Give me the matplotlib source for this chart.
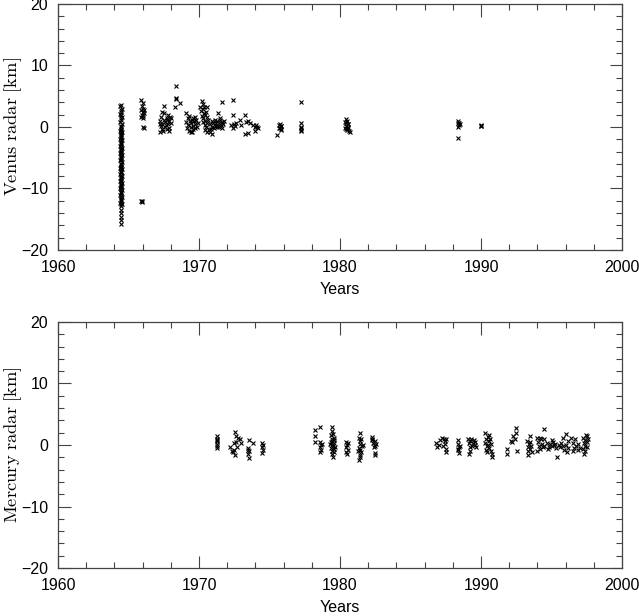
import matplotlib
matplotlib.use("Agg")
from matplotlib import pyplot as plt
from matplotlib.ticker import MultipleLocator

# Venus radar ranging residuals [km] (one line per campaign)
venus_year = [
    # 1964 column
    1964.43, 1964.47, 1964.43, 1964.47, 1964.43, 1964.47, 1964.43, 1964.47, 1964.43, 1964.47,
    1964.43, 1964.47, 1964.43, 1964.47, 1964.43, 1964.47, 1964.43, 1964.47, 1964.43, 1964.47,
    1964.43, 1964.47, 1964.43, 1964.47, 1964.43, 1964.47, 1964.43, 1964.47,
    1964.50, 1964.53, 1964.50, 1964.53, 1964.50, 1964.53, 1964.50, 1964.53, 1964.50, 1964.53,
    1964.50, 1964.53, 1964.50, 1964.53, 1964.50, 1964.53, 1964.50, 1964.53, 1964.50, 1964.53,
    1964.50, 1964.53, 1964.50, 1964.53, 1964.50, 1964.53, 1964.50, 1964.53,
    1964.48, 1964.48,
    1964.46, 1964.50, 1964.46, 1964.50, 1964.46, 1964.50, 1964.46, 1964.50, 1964.46, 1964.50,
    1964.46, 1964.50, 1964.46, 1964.50, 1964.46, 1964.50, 1964.46, 1964.50, 1964.46, 1964.50,
    1964.46, 1964.50, 1964.46, 1964.50, 1964.46, 1964.50,
    1964.47, 1964.49, 1964.47, 1964.49, 1964.47,
    # 1966
    1965.90, 1966.00, 1965.95, 1966.05, 1965.90, 1966.00, 1966.10, 1965.95, 1966.05, 1965.90,
    1966.10, 1966.00, 1966.05, 1966.10, 1965.92, 1965.95, 1965.93,
    # 1967-68
    1967.20, 1967.30, 1967.20, 1967.30, 1967.40, 1967.40, 1967.50, 1967.50, 1967.60, 1967.60,
    1967.70, 1967.70, 1967.80, 1967.80, 1967.90, 1967.90, 1968.00, 1968.00, 1967.55, 1967.35,
    1967.45, 1967.65, 1967.75, 1967.85, 1967.25, 1967.95,
    1968.35, 1968.35, 1968.37, 1968.33, 1968.65,
    # 1969
    1969.10, 1969.10, 1969.15, 1969.20, 1969.25, 1969.30, 1969.35, 1969.40, 1969.45, 1969.50,
    1969.50, 1969.55, 1969.60, 1969.65, 1969.70, 1969.70, 1969.75, 1969.80, 1969.85, 1969.90,
    1969.30, 1969.60, 1969.40,
    # 1970
    1970.20, 1970.30, 1970.10, 1970.15, 1970.25, 1970.35, 1970.20, 1970.30, 1970.40, 1970.45,
    1970.50, 1970.55, 1970.60, 1970.50, 1970.40, 1970.65, 1970.30, 1970.45, 1970.60, 1970.35,
    1970.55, 1970.70,
    # 1971
    1970.80, 1970.90, 1970.95, 1971.00, 1971.10, 1971.15, 1971.20, 1971.30, 1971.35, 1971.40,
    1971.50, 1971.55, 1971.60, 1971.70, 1971.75, 1970.85, 1971.05, 1971.25, 1971.45, 1971.65,
    1970.80, 1970.90, 1971.65, 1971.37, 1971.50,
    # 1972-74
    1972.43, 1972.43, 1972.50, 1972.40, 1972.55, 1972.30, 1972.60, 1972.90, 1973.00, 1973.26,
    1973.30, 1973.50, 1973.26, 1973.60, 1973.50, 1973.85, 1973.97, 1974.00, 1974.05, 1974.10,
    1974.20,
    # 1975
    1975.70, 1975.75, 1975.80, 1975.85, 1975.75, 1975.80, 1975.70, 1975.85, 1975.55,
    # 1977
    1977.23, 1977.23, 1977.23, 1977.20, 1977.25, 1977.22,
    # 1980
    1980.35, 1980.40, 1980.45, 1980.50, 1980.55, 1980.60, 1980.65, 1980.40, 1980.50, 1980.60,
    1980.35, 1980.55, 1980.70, 1980.45,
    # 1988, 1990
    1988.35, 1988.45, 1988.40, 1988.50, 1988.40, 1988.45, 1988.40,
    1990.00, 1990.02, 1989.98,
]
venus_dr = [
    3.4, 2.7, 2.1, 1.4, 0.8, 0.1, -0.6, -1.2, -1.9, -2.5,
    -3.1, -3.7, -4.3, -4.9, -5.4, -6.0, -6.6, -7.1, -7.7, -8.3,
    -8.8, -9.4, -10.0, -10.5, -11.1, -11.7, -12.3, -12.9,
    3.6, 3.0, 2.4, 1.7, 1.1, 0.4, -0.3, -0.9, -1.5, -2.2,
    -2.8, -3.4, -4.0, -4.6, -5.2, -5.7, -6.3, -6.9, -7.4, -8.0,
    -8.6, -9.1, -9.7, -10.3, -10.8, -11.4, -12.0, -12.6,
    2.0, 0.0,
    -0.45, -0.75, -1.35, -1.65, -2.05, -2.65, -3.25, -3.55, -4.15, -4.45,
    -5.05, -5.45, -5.95, -6.45, -6.85, -7.25, -7.85, -8.15, -8.75, -9.25,
    -9.65, -10.15, -10.65, -11.25, -11.85, -12.45,
    -13.5, -14.0, -14.6, -15.2, -15.8,
    4.4, 3.9, 3.4, 3.0, 2.7, 2.4, 2.2, 2.0, 1.8, 1.6,
    2.8, 1.5, 0.0, -0.2, -12.0, -12.2, -12.1,
    -0.8, 0.2, 1.0, 1.6, 0.5, -0.3, 1.2, 2.2, 0.8, 0.0,
    1.5, -0.4, 0.4, 1.9, 1.0, -0.2, 0.6, 1.4, 3.4, 2.5,
    -0.6, 0.3, 1.1, -0.6, 0.5, 1.7,
    6.7, 4.55, 4.7, 3.3, 3.9,
    2.3, 0.8, -0.2, 1.4, 0.3, -0.6, 1.0, 0.0, 0.6, -0.9,
    1.2, 0.2, -0.3, 0.9, 1.6, -0.1, 0.5, 1.1, 0.0, 0.7,
    1.8, 1.5, -0.8,
    4.2, 3.8, 3.2, 2.6, 2.9, 2.2, 1.8, 1.4, 1.9, 1.0,
    2.5, 0.6, 1.6, 0.0, 0.3, 1.1, 0.8, -0.5, -0.9, 3.3,
    3.2, -0.4,
    0.5, 1.0, 0.0, 0.6, 1.2, 0.2, 0.7, 1.0, 0.1, 0.6,
    1.1, 0.3, 0.8, 0.4, 1.0, -0.3, -0.2, 0.0, 0.0, -0.1,
    -0.8, -1.2, 4.0, 2.2, 1.4,
    4.4, 2.0, 0.5, -0.2, 0.1, 0.3, 0.7, 1.1, 0.3, 1.9,
    0.8, -1.0, -1.2, 0.6, 0.9, 0.3, 0.05, -0.7, 0.3, 0.0,
    -0.2,
    0.3, -0.2, 0.1, -0.4, 0.5, -0.5, -0.1, 0.2, -1.3,
    4.1, 0.7, -0.2, -0.6, -0.5, 0.0,
    0.8, 0.2, -0.3, 1.0, 0.5, -0.1, -0.6, 0.6, -0.5, 0.4,
    -0.1, 0.0, -0.8, 1.3,
    0.6, 0.3, 0.9, 0.5, 0.0, 0.7, -1.8,
    0.2, 0.3, 0.15,
]

# Mercury radar ranging residuals [km]
mercury_year = [
    1971.25, 1971.30, 1971.25, 1971.30, 1971.25, 1971.30, 1971.28,
    1972.55, 1972.60, 1972.90, 1972.20, 1972.45, 1972.55, 1972.40, 1972.65, 1972.75, 1972.50,
    1972.95, 1972.35, 1972.70,
    1973.50, 1973.55, 1973.50, 1973.55, 1973.55, 1973.85, 1973.50,
    1974.50, 1974.50, 1974.55, 1974.50, 1974.55,
    1978.20, 1978.60, 1978.25, 1978.20, 1978.60, 1978.65, 1978.60, 1978.65, 1978.60, 1978.70,
    1979.40, 1979.45, 1979.35, 1979.50, 1979.40, 1979.55, 1979.35, 1979.45, 1979.60, 1979.40,
    1979.50, 1979.35, 1979.55, 1979.45, 1979.60, 1979.40, 1979.50, 1979.60, 1979.30, 1979.65,
    1980.40, 1980.50, 1980.45, 1980.55, 1980.45, 1980.50, 1980.55,
    1981.40, 1981.35, 1981.45, 1981.50, 1981.40, 1981.55, 1981.35, 1981.45, 1981.50, 1981.40,
    1981.45, 1981.35, 1981.60, 1981.30,
    1982.25, 1982.30, 1982.35, 1982.45, 1982.50, 1982.55, 1982.40, 1982.50, 1982.45, 1982.30,
    1986.80, 1986.85, 1987.10, 1987.20, 1987.30, 1987.40, 1987.45, 1987.50, 1987.55, 1987.45,
    1987.00, 1987.50,
    1988.40, 1988.35, 1988.45, 1988.40, 1988.45, 1988.50, 1988.35,
    1989.10, 1989.15, 1989.20, 1989.15, 1989.25, 1989.30, 1989.35, 1989.40, 1989.50, 1989.55,
    1989.60, 1989.65, 1989.20,
    1990.30, 1990.35, 1990.30, 1990.40, 1990.35, 1990.50, 1990.55, 1990.50, 1990.60, 1990.65,
    1990.70, 1990.70, 1990.75, 1990.80, 1990.45, 1990.60,
    1991.85, 1991.85, 1992.10, 1992.20, 1992.30, 1992.40, 1992.50, 1992.45, 1992.55,
    1993.25, 1993.30, 1993.35, 1993.40, 1993.45, 1993.50, 1993.55, 1993.60, 1993.30, 1993.50,
    1994.00, 1994.05, 1994.10, 1994.15, 1994.20, 1994.25, 1994.30, 1994.00, 1994.50, 1994.45,
    1994.40, 1994.50,
    1994.70, 1994.80, 1994.90, 1995.00, 1995.10, 1995.20, 1995.30, 1994.75, 1995.05, 1995.25,
    1995.40, 1995.50, 1995.60, 1995.70, 1995.80, 1995.90, 1996.00, 1996.05, 1996.10, 1996.15,
    1995.85, 1996.20,
    1996.40, 1996.50, 1996.60, 1996.70, 1996.75, 1996.85, 1996.90, 1997.00, 1996.55,
    1997.25, 1997.30, 1997.25, 1997.30, 1997.35, 1997.40, 1997.45, 1997.50, 1997.55, 1997.60,
    1997.40, 1997.50,
]
mercury_dr = [
    1.4, 1.0, 0.6, 0.2, -0.2, -0.5, 0.8,
    2.05, 1.4, 0.9, -0.3, 0.4, -1.6, -1.2, 0.5, 1.2, -0.8,
    0.4, -0.9, -0.3,
    -0.5, -1.0, -1.5, -2.1, 0.8, 0.3, -0.8,
    0.3, -0.3, -0.8, -1.3, 0.0,
    2.4, 2.9, 0.5, 1.4, 0.5, 0.0, -0.4, -0.8, -1.1, 0.2,
    3.0, 2.2, 1.6, 1.8, 1.0, 1.2, 0.5, 0.6, 0.3, 0.0,
    -0.2, -0.5, -0.6, -1.0, -1.2, -1.4, -1.9, 0.8, 0.2, -0.3,
    0.5, 0.0, -0.4, -0.8, -1.2, -1.5, 0.3,
    1.9, 1.2, 0.6, 0.9, 0.2, -0.2, -0.5, -0.8, -1.2, -1.6,
    -2.0, -2.4, 0.0, -1.0,
    1.25, 0.8, 0.3, 0.6, -0.1, 0.2, -0.4, -1.3, -1.6, 1.0,
    0.3, -0.3, 0.8, 1.1, -0.2, 1.0, 0.2, -0.6, -1.2, 0.6,
    0.0, 0.9,
    0.8, 0.2, -0.3, -0.8, -1.3, -0.1, -0.6,
    0.9, 0.3, -0.4, -1.5, 0.7, 1.0, -0.2, 0.4, 0.8, 0.0,
    0.5, -0.3, -0.9,
    2.0, 1.0, 0.4, -0.2, -0.8, 1.3, 0.6, 0.0, -0.5, 1.0,
    0.2, -1.0, -1.5, -1.9, -1.2, 1.6,
    -0.6, -1.4, 0.7, 0.5, 1.4, 1.0, 2.8, 2.0, -0.9,
    0.6, -0.3, -1.0, 0.1, -0.6, 1.4, -0.2, -1.2, -1.6, 0.5,
    1.2, 0.5, -0.2, 1.2, -0.6, 1.0, 0.2, -0.9, 2.6, 1.0,
    -0.4, -0.1,
    0.4, -0.3, 0.2, -0.1, 0.5, 0.0, -0.5, -0.6, 0.8, 0.2,
    -1.9, 0.0, -0.4, 0.3, 1.1, -0.8, 1.85, 0.0, -1.2, 0.6,
    -0.1, -0.5,
    1.2, 0.3, -0.5, 0.9, -0.2, -0.8, 0.2, -0.5, -1.0,
    1.2, 0.3, -0.6, -1.5, 0.8, -0.2, 1.7, 0.5, -0.4, 1.0,
    -1.0, 1.4,
]

assert len(venus_year) == len(venus_dr)
assert len(mercury_year) == len(mercury_dr)

plt.rcParams['font.family'] = ['Liberation Sans', 'DejaVu Sans']
plt.rcParams['mathtext.fontset'] = 'cm'

fig = plt.figure(figsize=(6.39, 6.16), dpi=100)
ax1 = fig.add_axes([0.0908, 0.5942, 0.8826, 0.3994])
ax2 = fig.add_axes([0.0908, 0.0779, 0.8826, 0.3994])

panels = [(ax1, venus_year, venus_dr, r'$\mathrm{Venus\ radar\ [km]}$'),
          (ax2, mercury_year, mercury_dr, r'$\mathrm{Mercury\ radar\ [km]}$')]

for ax, yr, dr, lab in panels:
    ax.plot(yr, dr, 'x', color='k', ms=3.4, mew=0.8)
    ax.set_xlim(1960, 2000)
    ax.set_ylim(-20, 20)
    ax.xaxis.set_major_locator(MultipleLocator(10))
    ax.xaxis.set_minor_locator(MultipleLocator(2))
    ax.yaxis.set_major_locator(MultipleLocator(10))
    ax.yaxis.set_minor_locator(MultipleLocator(2))
    ax.tick_params(which='both', direction='in', top=True, right=True,
                   width=0.8, labelsize=11.5, color='#444444')
    ax.tick_params(which='major', length=9, pad=7)
    ax.tick_params(which='minor', length=4.5)
    for sp in ax.spines.values():
        sp.set_linewidth(0.9)
        sp.set_color('#444444')
    ax.set_xlabel('Years', fontsize=11.5, labelpad=5)
    # y label placed in figure coordinates so it sits at the left edge
    pos = ax.get_position()
    fig.text(2 / 639, pos.y0 + pos.height / 2, lab, rotation=90,
             ha='left', va='center', fontsize=13.3)

fig.savefig('out.png', dpi=100)
